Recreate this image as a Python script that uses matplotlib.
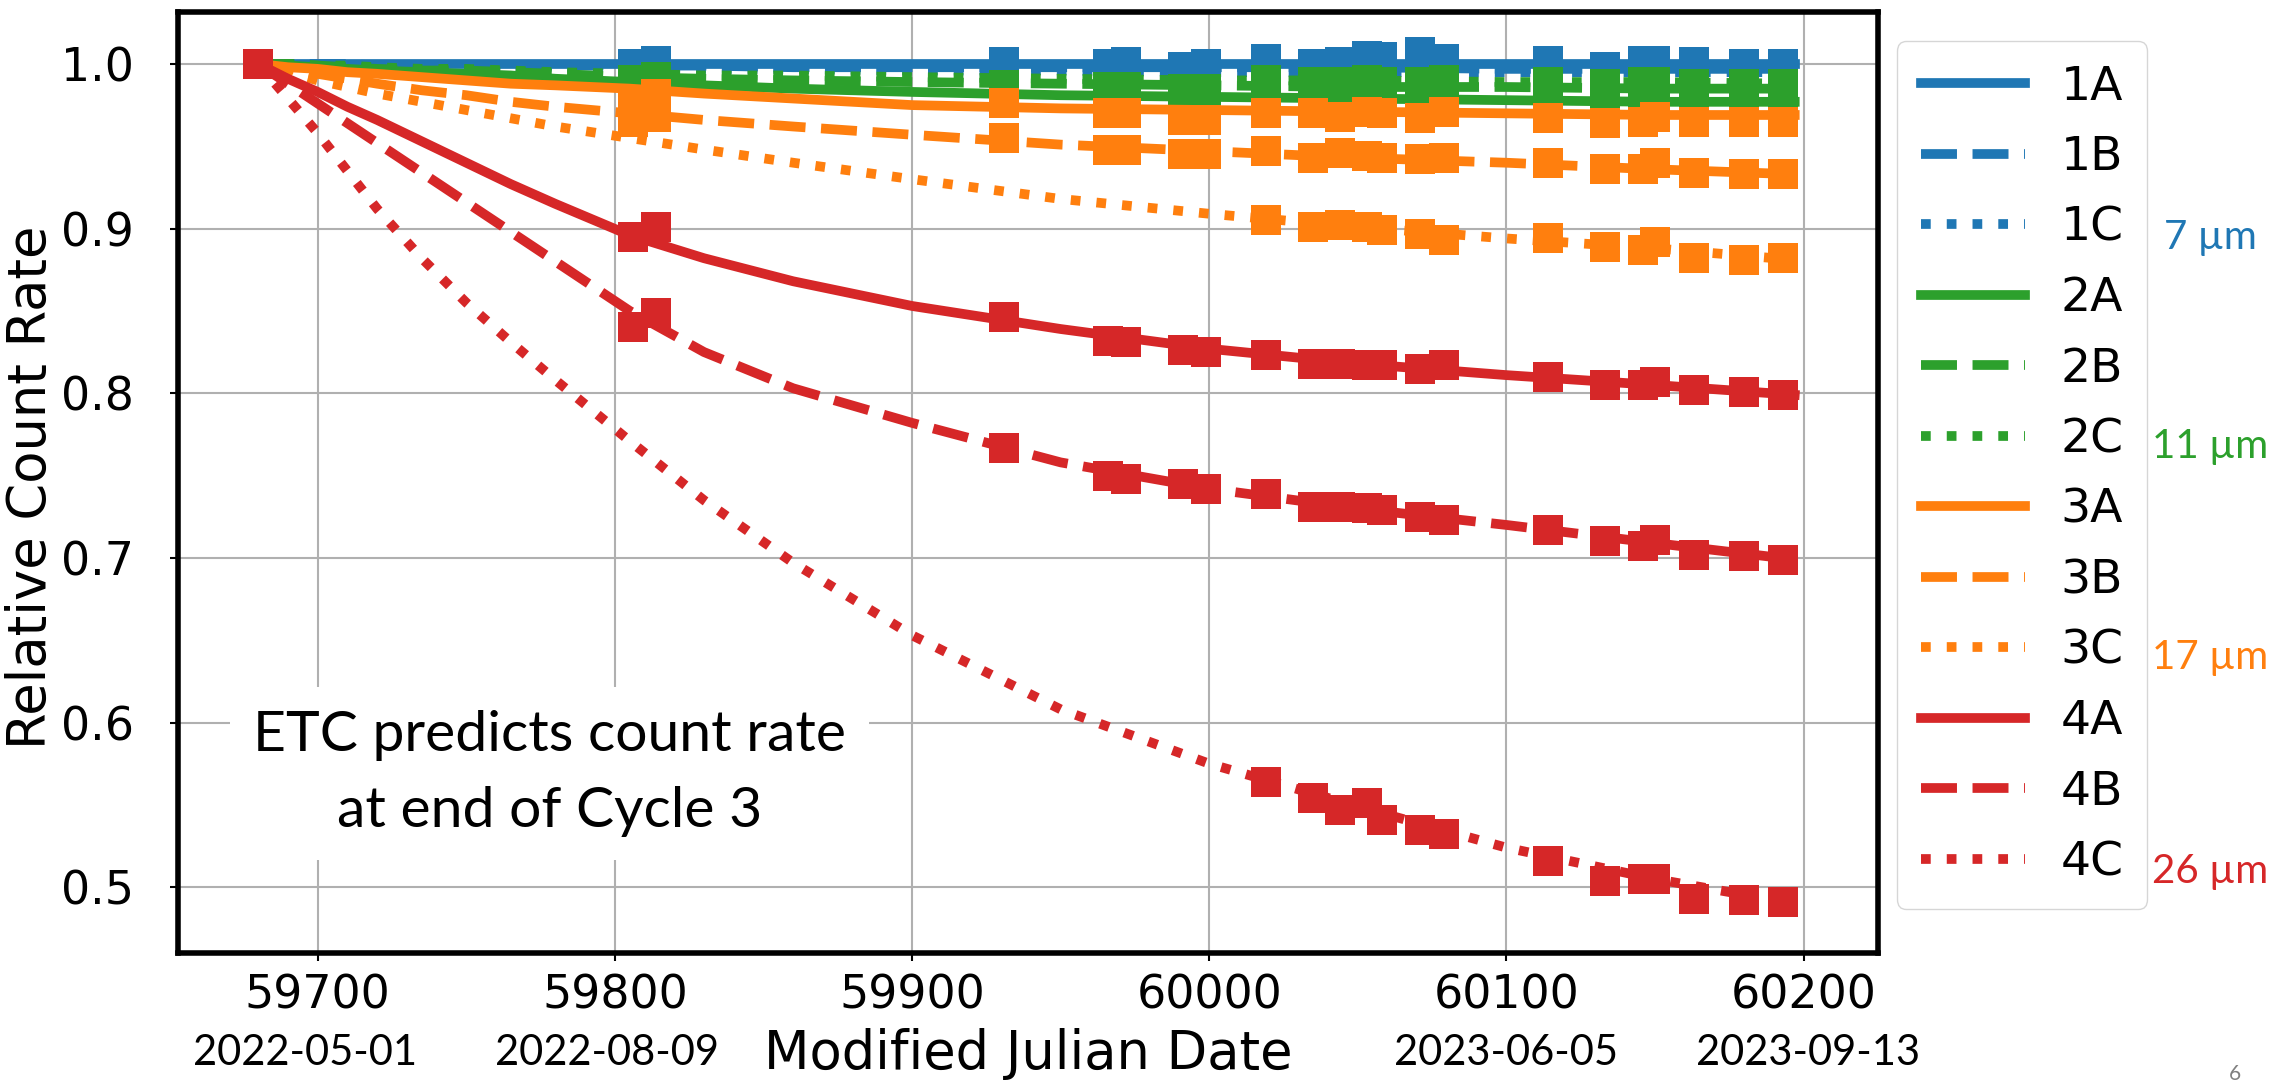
import matplotlib
matplotlib.use('Agg')
import matplotlib.pyplot as plt
import matplotlib.transforms as mtransforms

# MJD sample points along the plotted (model) curves
model_mjd = [59680, 59690, 59700, 59710, 59720, 59735, 59750, 59765, 59780, 59805,
             59830, 59860, 59900, 59950, 60000, 60050, 60100, 60150, 60197]

model_1A = [1.000, 1.000, 1.000, 1.000, 1.000, 1.000, 1.000, 1.000, 1.000, 1.000,
            1.000, 1.000, 1.000, 1.000, 1.000, 1.000, 1.000, 1.000, 1.000]
model_1B = [1.000, 1.000, 1.000, 1.000, 0.999, 0.999, 0.999, 0.999, 0.999, 0.999,
            0.999, 0.998, 0.998, 0.998, 0.998, 0.998, 0.997, 0.997, 0.997]
model_1C = [1.000, 1.000, 0.999, 0.999, 0.999, 0.998, 0.998, 0.998, 0.998, 0.997,
            0.997, 0.997, 0.996, 0.996, 0.995, 0.995, 0.995, 0.995, 0.995]
model_2A = [1.000, 0.999, 0.998, 0.997, 0.996, 0.995, 0.994, 0.993, 0.991, 0.989,
            0.987, 0.985, 0.983, 0.981, 0.980, 0.979, 0.978, 0.977, 0.977]
model_2B = [1.000, 1.000, 0.999, 0.998, 0.997, 0.996, 0.996, 0.995, 0.994, 0.992,
            0.991, 0.990, 0.989, 0.988, 0.987, 0.986, 0.986, 0.985, 0.985]
model_2C = [1.000, 1.000, 0.999, 0.999, 0.998, 0.997, 0.997, 0.996, 0.995, 0.994,
            0.993, 0.993, 0.992, 0.991, 0.990, 0.990, 0.989, 0.989, 0.988]
model_3A = [1.000, 0.998, 0.997, 0.995, 0.994, 0.992, 0.990, 0.988, 0.987, 0.985,
            0.982, 0.979, 0.975, 0.973, 0.972, 0.971, 0.970, 0.969, 0.969]
model_3B = [1.000, 0.997, 0.994, 0.991, 0.988, 0.984, 0.981, 0.977, 0.974, 0.970,
            0.966, 0.962, 0.957, 0.951, 0.947, 0.943, 0.940, 0.936, 0.933]
model_3C = [1.000, 0.995, 0.990, 0.986, 0.982, 0.977, 0.972, 0.967, 0.962, 0.955,
            0.948, 0.940, 0.930, 0.918, 0.909, 0.901, 0.894, 0.888, 0.881]
model_4A = [1.000, 0.991, 0.983, 0.974, 0.966, 0.953, 0.940, 0.927, 0.915, 0.896,
            0.882, 0.868, 0.853, 0.839, 0.827, 0.818, 0.811, 0.805, 0.799]
model_4B = [1.000, 0.988, 0.976, 0.964, 0.952, 0.934, 0.916, 0.898, 0.880, 0.850,
            0.825, 0.803, 0.782, 0.758, 0.742, 0.730, 0.720, 0.709, 0.699]
model_4C = [1.000, 0.979, 0.958, 0.935, 0.912, 0.882, 0.855, 0.831, 0.808, 0.771,
            0.735, 0.697, 0.653, 0.608, 0.575, 0.549, 0.524, 0.505, 0.490]

# observation dates (A/B subbands observed more often than C)
obs_ab = [59680, 59806, 59814, 59931, 59966, 59972, 59991, 59999, 60019, 60035, 60044,
          60053, 60058, 60071, 60079, 60114, 60133, 60146, 60150, 60163, 60180, 60193]
obs_c = [59680, 60019, 60035, 60044, 60053, 60058, 60071, 60079, 60114, 60133, 60146,
         60150, 60163, 60180, 60193]

obs_1A = [1.000, 1.000, 1.002, 1.001, 1.000, 1.001, 0.998, 1.000, 1.003, 1.000, 1.001,
          1.005, 1.004, 1.007, 1.003, 1.002, 0.998, 1.002, 1.002, 1.001, 1.000, 1.000]
obs_1B = [1.000, 0.997, 0.998, 0.997, 0.996, 0.997, 0.995, 0.996, 0.998, 0.996, 0.997,
          0.999, 0.998, 1.000, 0.998, 0.997, 0.995, 0.997, 0.997, 0.996, 0.995, 0.996]
obs_1C = [1.000, 0.996, 0.995, 0.995, 0.997, 0.996, 0.997, 0.996, 0.995, 0.994, 0.995,
          0.995, 0.994, 0.994, 0.994]
obs_2A = [1.000, 0.985, 0.987, 0.982, 0.981, 0.981, 0.980, 0.980, 0.980, 0.979, 0.979,
          0.979, 0.979, 0.978, 0.979, 0.978, 0.977, 0.978, 0.978, 0.977, 0.977, 0.977]
obs_2B = [1.000, 0.990, 0.992, 0.987, 0.986, 0.986, 0.985, 0.985, 0.986, 0.985, 0.985,
          0.986, 0.985, 0.985, 0.986, 0.985, 0.984, 0.985, 0.985, 0.984, 0.984, 0.984]
obs_2C = [1.000, 0.990, 0.989, 0.989, 0.990, 0.989, 0.989, 0.990, 0.989, 0.988, 0.989,
          0.989, 0.988, 0.988, 0.988]
obs_3A = [1.000, 0.978, 0.982, 0.976, 0.970, 0.970, 0.966, 0.966, 0.970, 0.970, 0.968,
          0.971, 0.970, 0.967, 0.971, 0.967, 0.964, 0.965, 0.968, 0.965, 0.965, 0.965]
obs_3B = [1.000, 0.965, 0.968, 0.955, 0.948, 0.948, 0.945, 0.945, 0.947, 0.943, 0.946,
          0.944, 0.943, 0.942, 0.943, 0.940, 0.936, 0.936, 0.940, 0.934, 0.933, 0.933]
obs_3C = [1.000, 0.905, 0.901, 0.902, 0.901, 0.899, 0.897, 0.893, 0.894, 0.889, 0.887,
          0.892, 0.882, 0.881, 0.882]
obs_4A = [1.000, 0.895, 0.901, 0.846, 0.832, 0.831, 0.826, 0.825, 0.823, 0.818, 0.818,
          0.817, 0.817, 0.815, 0.817, 0.810, 0.805, 0.805, 0.807, 0.802, 0.801, 0.799]
obs_4B = [1.000, 0.840, 0.849, 0.767, 0.750, 0.748, 0.745, 0.742, 0.739, 0.731, 0.731,
          0.730, 0.729, 0.725, 0.723, 0.717, 0.710, 0.707, 0.711, 0.702, 0.701, 0.699]
obs_4C = [1.000, 0.564, 0.554, 0.547, 0.551, 0.541, 0.535, 0.532, 0.516, 0.504, 0.505,
          0.505, 0.493, 0.492, 0.491]

bands = ['1A', '1B', '1C', '2A', '2B', '2C', '3A', '3B', '3C', '4A', '4B', '4C']
models = [model_1A, model_1B, model_1C, model_2A, model_2B, model_2C,
          model_3A, model_3B, model_3C, model_4A, model_4B, model_4C]
observed = [obs_1A, obs_1B, obs_1C, obs_2A, obs_2B, obs_2C,
            obs_3A, obs_3B, obs_3C, obs_4A, obs_4B, obs_4C]

x_ticks = [59700, 59800, 59900, 60000, 60100, 60200]
y_ticks = [0.5, 0.6, 0.7, 0.8, 0.9, 1.0]
date_mjd = [59700, 59800, 60100, 60200]
date_labels = ['2022-05-01', '2022-08-09', '2023-06-05', '2023-09-13']
wave_labels = ['7 µm', '11 µm', '17 µm', '26 µm']

colors = {'1': '#1f77b4', '2': '#2ca02c', '3': '#ff7f0e', '4': '#d62728'}
styles = {'A': '-', 'B': '--', 'C': ':'}

fig = plt.figure(figsize=(22.91, 10.83), dpi=100)
ax = fig.add_axes([0.0777, 0.12, 0.742, 0.869])

for name, mod, obs in zip(bands, models, observed):
    c = colors[name[0]]
    ax.plot(model_mjd, mod, linestyle=styles[name[1]], color=c, lw=7, label=name)
    xs = obs_c if name[1] == 'C' else obs_ab
    ax.plot(xs, obs, linestyle='none', marker='s', markersize=22,
            markeredgewidth=0, color=c)

ax.set_xlim(59653, 60225)
ax.set_ylim(0.46, 1.0316)
ax.set_xticks(x_ticks)
ax.set_yticks(y_ticks)
ax.set_yticklabels(['%.1f' % v for v in y_ticks])
ax.grid(True, color='#b0b0b0', lw=1.5)
ax.set_axisbelow(True)
for s in ax.spines.values():
    s.set_linewidth(4)
    s.set_color('black')
ax.tick_params(axis='both', labelsize=33, length=6, width=1.5)
ax.tick_params(axis='y', pad=26)
ax.tick_params(axis='x', pad=9)

ax.set_ylabel('Relative Count Rate', fontsize=38)
ax.yaxis.set_label_coords(-0.071, 0.495)
ax.set_xlabel('Modified Julian Date', fontsize=38)
ax.xaxis.set_label_coords(0.5, -0.08)

# dates under the MJD ticks, nudged sideways a little as on the slide
shift_px = [-13, -8, 0, 4]
for m, lab, dx in zip(date_mjd, date_labels, shift_px):
    tr = mtransforms.blended_transform_factory(ax.transData, ax.transAxes) + \
        mtransforms.ScaledTranslation(dx / 100, 0, fig.dpi_scale_trans)
    ax.text(m, -0.106, lab, transform=tr, ha='center', va='center',
            fontsize=30, family='Lato')

ax.text(59778, 0.569, 'ETC predicts count rate\nat end of Cycle 3', ha='center',
        va='center', fontsize=41, family='Lato', linespacing=1.6,
        bbox=dict(boxstyle='square,pad=0.4', facecolor='white', edgecolor='none'))

ax.legend(loc='upper left', bbox_to_anchor=(0.828, 0.962), bbox_transform=fig.transFigure,
          borderaxespad=0, fontsize=34, labelspacing=0.54, handlelength=2.22,
          handletextpad=0.74, borderpad=0.5)

wave_y = [237, 446, 658, 871]
for lab, yy, c in zip(wave_labels, wave_y, ['1', '2', '3', '4']):
    fig.text(2210 / 2291, 1 - yy / 1083, lab, color=colors[c], fontsize=29,
             family='Lato', ha='center', va='center')

fig.text(2235 / 2291, 1 - 1074 / 1083, '6', color='#808080', fontsize=15,
         family='Lato', ha='center', va='center')

fig.savefig('out.png', dpi=100)
